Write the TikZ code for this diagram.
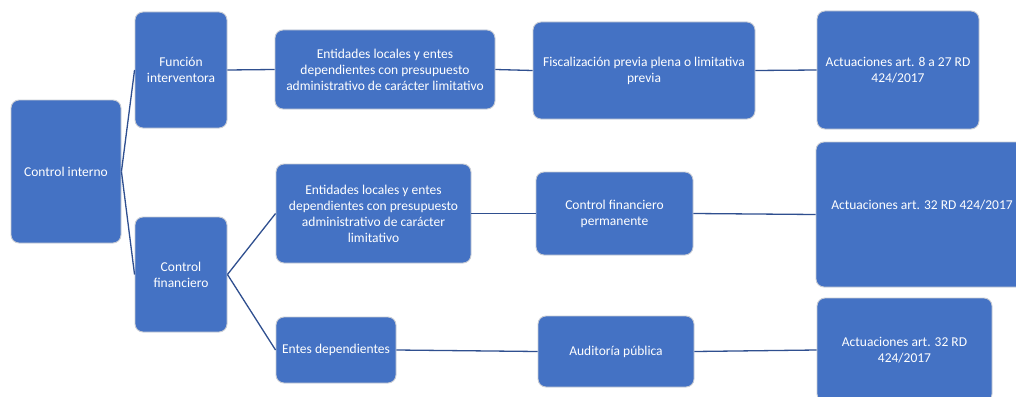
\documentclass[tikz,border=0pt]{standalone}
\usepackage{fontspec}
\setmainfont{Carlito}
\definecolor{boxblue}{HTML}{4472C4}
\definecolor{edgegray}{HTML}{C8CCD4}
\definecolor{linkblue}{HTML}{2F4F8F}
\begin{document}
\begin{tikzpicture}[x=1pt,y=-1pt,
  bx/.style={rectangle, rounded corners=8pt, fill=boxblue, draw=edgegray, line width=0.9pt,
    text=white, align=center, font=\fontsize{13.5}{16}\selectfont, inner sep=2pt},
  link/.style={draw=linkblue, line width=1.3pt}]
\useasboundingbox (0,0) rectangle (1016,396);
\clip (0,0) rectangle (1016,396);
\fill[white] (0,0) rectangle (1016,396);
% column 1
\node[bx, minimum width=110pt, minimum height=143pt] (ci) at (66,171.5) {Control interno};
% column 2
\node[bx, minimum width=92pt, minimum height=116pt] (fi) at (181,70) {Función\\interventora};
\node[bx, minimum width=92pt, minimum height=115pt] (cf) at (181,274.5) {Control\\financiero};
% column 3
\node[bx, minimum width=220pt, minimum height=79pt] (el1) at (385,69.5) {Entidades locales y entes\\dependientes con presupuesto\\administrativo de carácter limitativo};
\node[bx, minimum width=195pt, minimum height=99pt] (el2) at (373.5,213.5) {Entidades locales y entes\\dependientes con presupuesto\\administrativo de carácter\\limitativo};
\node[bx, minimum width=120pt, minimum height=66pt] (ed) at (336,350) {Entes dependientes};
% column 4
\node[bx, minimum width=222pt, minimum height=97pt] (fp) at (644,70.5) {Fiscalización previa plena o limitativa\\previa};
\node[bx, minimum width=157pt, minimum height=83pt] (cfp) at (614.5,213.5) {Control financiero\\permanente};
\node[bx, minimum width=156pt, minimum height=71pt] (ap) at (616,351.5) {Auditoría pública};
% column 5
\node[bx, minimum width=162pt, minimum height=118pt] (a1) at (898,70) {Actuaciones art. 8 a 27 RD\\424/2017};
\node[bx, minimum width=212pt, minimum height=145pt] (a2) at (922,214.5) {};
\node[text=white, font=\fontsize{13.5}{16}\selectfont] (a2t) at (922,205) {Actuaciones art. 32 RD 424/2017};
\node[bx, minimum width=175pt, minimum height=104pt] (a3) at (904.5,350) {Actuaciones art. 32 RD\\424/2017};
% connectors
\draw[link] (ci.east) -- (fi.west);
\draw[link] (ci.east) -- (cf.west);
\draw[link] (fi.east) -- (el1.west);
\draw[link] (el1.east) -- (fp.west);
\draw[link] (fp.east) -- (a1.west);
\draw[link] (cf.east) -- (el2.west);
\draw[link] (cf.east) -- (ed.west);
\draw[link] (el2.east) -- (cfp.west);
\draw[link] (cfp.east) -- (a2.west);
\draw[link] (ed.east) -- (ap.west);
\draw[link] (ap.east) -- (a3.west);
\end{tikzpicture}
\end{document}
